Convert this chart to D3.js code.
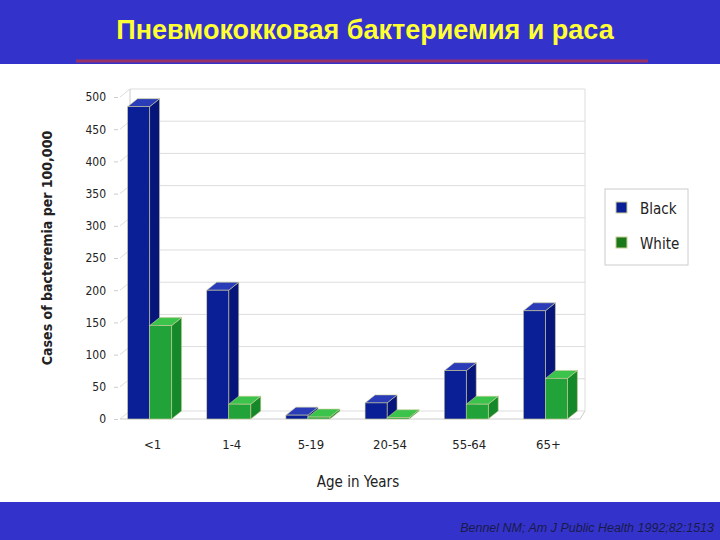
<!DOCTYPE html><html><head><meta charset="utf-8"><script src="https://cdn.jsdelivr.net/npm/d3@7"></script>
<style>body{margin:0}svg{display:block}</style></head><body><svg width="720" height="540"></svg>
<script>
const categories=["<1","1-4","5-19","20-54","55-64","65+"];
const black=[485,200,6,25,75,168];
const white=[145,23,3,2,23,63];
const yTicks=[0,50,100,150,200,250,300,350,400,450,500];
const svg=d3.select("svg");
svg.append("rect").attr("width",720).attr("height",540).attr("fill","#fff");
svg.append("rect").attr("width",720).attr("height",64).attr("fill","#3333cc");
svg.append("rect").attr("y",502).attr("width",720).attr("height",38).attr("fill","#3333cc");
svg.append("line").attr("x1",76).attr("x2",648).attr("y1",61).attr("y2",61).attr("stroke","#993366").attr("stroke-width",3);
svg.append("text").attr("x",365).attr("y",39).attr("text-anchor","middle").attr("fill","#ffff33").attr("font-family","Liberation Sans, Arial").attr("font-weight","bold").attr("font-size",27).text("Пневмококковая бактериемия и раса");
svg.append("text").attr("x",714).attr("y",532).attr("text-anchor","end").attr("fill","#1a1a4a").attr("font-family","Liberation Sans, Arial").attr("font-style","italic").attr("font-size",12.5).text("Bennel NM; Am J Public Health 1992;82:1513");
const y=d3.scaleLinear().domain([0,500]).range([419,97]);
const x=d3.scaleBand().domain(categories).range([110,585]);
const dx=10,dy=-8;
// back wall grid
const g=svg.append("g");
yTicks.forEach(t=>{
 g.append("line").attr("x1",120+dx).attr("x2",585).attr("y1",y(t)+dy).attr("y2",y(t)+dy).attr("stroke","#ddd");
 g.append("line").attr("x1",120).attr("x2",120+dx).attr("y1",y(t)).attr("y2",y(t)+dy).attr("stroke","#ddd");
});
g.append("line").attr("x1",120+dx).attr("x2",120+dx).attr("y1",y(0)+dy).attr("y2",y(500)+dy).attr("stroke","#ccc");
g.append("line").attr("x1",585).attr("x2",585).attr("y1",y(0)+dy).attr("y2",y(500)+dy).attr("stroke","#ddd");
g.append("path").attr("d",`M120,${y(0)}L${580},${y(0)}L585,${y(0)+dy}`).attr("fill","none").attr("stroke","#ccc");
const ax=d3.axisLeft(y).tickValues(yTicks).tickSize(4).tickPadding(8);
const a=svg.append("g").attr("transform","translate(118,0)").call(ax);
a.select(".domain").remove();a.selectAll("line").attr("stroke","#ccc");
a.selectAll("text").attr("font-family","DejaVu Sans Condensed, Liberation Sans Narrow").attr("font-size",12).attr("fill","#222");
function bar(cx,v,front,top,side){
 const x0=cx,w=22,y0=y(v),yb=y(0);
 svg.append("path").attr("d",`M${x0+w},${y0}L${x0+w+dx},${y0+dy}L${x0+w+dx},${yb+dy}L${x0+w},${yb}Z`).attr("fill",side).attr("stroke","#cc9").attr("stroke-width",0.6);
 svg.append("path").attr("d",`M${x0},${y0}L${x0+dx},${y0+dy}L${x0+w+dx},${y0+dy}L${x0+w},${y0}Z`).attr("fill",top).attr("stroke","#cc9").attr("stroke-width",0.6);
 svg.append("rect").attr("x",x0).attr("y",y0).attr("width",w).attr("height",yb-y0).attr("fill",front).attr("stroke","#cc9").attr("stroke-width",0.6);
}
categories.forEach((c,i)=>{
 const cx=x(c)+x.bandwidth()/2;
 bar(cx-22,black[i],"#0a1e96","#2a3cb8","#06157a");
 bar(cx,white[i],"#22a33a","#3cc34c","#15882a");
 svg.append("text").attr("x",cx+3).attr("y",449).attr("text-anchor","middle").attr("font-family","DejaVu Sans Condensed, Liberation Sans Narrow").attr("font-size",13).attr("fill","#222").text(c);
});
svg.append("text").attr("x",358).attr("y",487).attr("text-anchor","middle").attr("font-family","DejaVu Sans Condensed, Liberation Sans Narrow").attr("font-size",15).attr("fill","#222").text("Age in Years");
svg.append("text").attr("transform","translate(52,248) rotate(-90)").attr("text-anchor","middle").attr("font-family","DejaVu Sans Condensed, Liberation Sans Narrow").attr("font-weight","bold").attr("font-size",14).attr("fill","#222").text("Cases of bacteremia per 100,000");
const L=svg.append("g");
L.append("rect").attr("x",605).attr("y",189).attr("width",83).attr("height",76).attr("fill","#fff").attr("stroke","#ccc");
[["Black","#0a1e96",210],["White","#1a7a1a",245]].forEach(([t,c,yy])=>{
 L.append("rect").attr("x",616).attr("y",yy-8).attr("width",11).attr("height",11).attr("fill",c).attr("stroke","#cc9");
 L.append("text").attr("x",640).attr("y",yy+4).attr("font-family","DejaVu Sans Condensed, Liberation Sans Narrow").attr("font-size",15).attr("fill","#222").text(t);
});
</script></body></html>
